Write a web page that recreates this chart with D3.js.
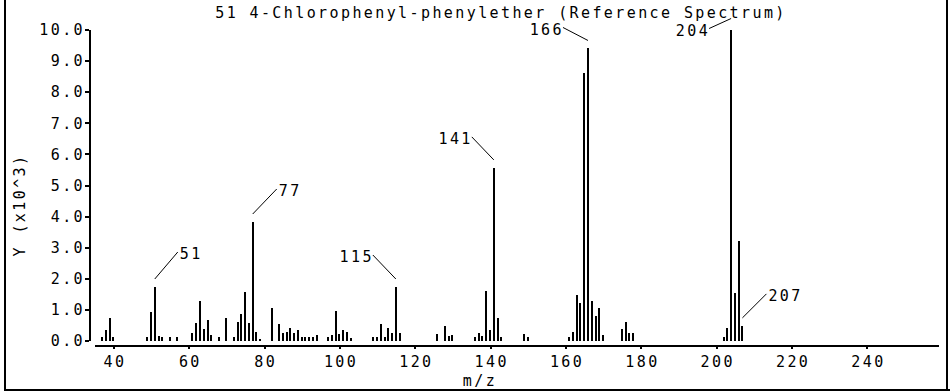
<!DOCTYPE html>
<html>
<head>
<meta charset="utf-8">
<script src="https://cdn.jsdelivr.net/npm/d3@7"></script>
<style>
    body { margin: 0; background: #fff; }
    text { font-family: "DejaVu Sans Mono", monospace; font-size: 15px; letter-spacing: 2.4px; fill: #000; }
    .axis path, .axis line { stroke: #000; stroke-width: 2px; shape-rendering: crispEdges; }
</style>
</head>
<body>
<svg id="spectrum" width="950" height="392"></svg>
<script>
// peaks (intensity in units of 10^3)
const masses = [37, 38, 39, 40, 49, 50, 51, 52, 53, 55, 57,
    61, 62, 63, 64, 65, 66, 68, 70, 72, 73, 74, 75, 76, 77, 78, 79,
    82, 84, 85, 86, 87, 88, 89, 90, 91, 92, 93, 94,
    97, 98, 99, 100, 101, 102, 103,
    109, 110, 111, 112, 113, 114, 115, 116,
    126, 128, 129, 130,
    136, 137, 138, 139, 140, 141, 142, 143, 149, 150,
    161, 162, 163, 164, 165, 166, 167, 168, 169, 170,
    175, 176, 177, 178,
    202, 203, 204, 205, 206, 207];
const intensities = [0.1, 0.35, 0.72, 0.1, 0.1, 0.91, 1.72, 0.15, 0.1, 0.1, 0.1,
    0.23, 0.55, 1.27, 0.36, 0.66, 0.18, 0.1, 0.72, 0.1, 0.58, 0.84, 1.57, 0.55, 3.81, 0.28, 0.05,
    1.04, 0.53, 0.23, 0.28, 0.39, 0.23, 0.34, 0.12, 0.12, 0.12, 0.12, 0.18,
    0.12, 0.18, 0.96, 0.2, 0.34, 0.28, 0.08,
    0.1, 0.1, 0.53, 0.12, 0.4, 0.25, 1.72, 0.25,
    0.22, 0.47, 0.16, 0.18,
    0.1, 0.23, 0.16, 1.6, 0.34, 5.55, 0.72, 0.1, 0.2, 0.1,
    0.1, 0.28, 1.47, 1.22, 8.6, 9.39, 1.27, 0.79, 1.04, 0.18,
    0.36, 0.61, 0.23, 0.23,
    0.12, 0.41, 10.0, 1.52, 3.19, 0.47];

const labelledMasses = [51, 77, 115, 141, 166, 204, 207];

const xTicks = [40, 60, 80, 100, 120, 140, 160, 180, 200, 220, 240];
const yTicks = [0, 1, 2, 3, 4, 5, 6, 7, 8, 9, 10];

const title = "51 4-Chlorophenyl-phenylether (Reference Spectrum)";
const xTitle = "m/z";
const yTitle = "Y (x10^3)";

// leader line layout: gap above bar, then dx/dy to the label
const leaders = {
    51: [8, 23, -27], 77: [8, 24, -25], 115: [8, -23, -24], 141: [8, -22, -23],
    166: [8, -25, -13], 204: [11, -22, 10], 207: [8, 24, -24]
};

const svg = d3.select("#spectrum");
const width = +svg.attr('width');
const height = +svg.attr('height');

const peaks = masses.map((m, i) => ({ mass: m, value: intensities[i] }));

const xScale = d3.scaleLinear().domain([35, 259]).range([94.5, 938.3]);
const yScale = d3.scaleLinear().domain([0, 10]).range([340.5, 29.5]);

// frame
svg.append("path")
    .attr("d", `M5,0 V390 H${width} M947,0 V390`)
    .attr("fill", "none")
    .attr("stroke", "#000")
    .attr("stroke-width", 2)
    .attr("shape-rendering", "crispEdges");

svg.append("text")
    .attr("x", 501)
    .attr("y", 13)
    .attr("dy", "0.35em")
    .attr("text-anchor", "middle")
    .text(title);

// y axis
const yAxisG = svg.append("g")
    .attr("class", "axis")
    .attr("transform", "translate(89,0)")
    .call(d3.axisLeft(yScale).tickValues(yTicks).tickSize(4).tickSizeOuter(0).tickFormat(d3.format(".1f")));
yAxisG.selectAll("text")
    .attr("x", -4)
    .attr("dy", "0.35em");
yAxisG.attr("font-family", null).attr("font-size", null);

// x axis
const xAxisG = svg.append("g")
    .attr("class", "axis")
    .attr("transform", "translate(0,345)")
    .call(d3.axisBottom(xScale).tickValues(xTicks).tickSize(4).tickSizeOuter(0));
xAxisG.selectAll("text")
    .attr("y", 17)
    .attr("dy", "0.35em")
    .attr("dx", 1.2);
xAxisG.attr("font-family", null).attr("font-size", null);

svg.append("text")
    .attr("x", 480)
    .attr("y", 381)
    .attr("dy", "0.35em")
    .attr("text-anchor", "middle")
    .text(xTitle);

svg.append("text")
    .attr("transform", "translate(20,205) rotate(-90)")
    .attr("dy", "0.35em")
    .attr("text-anchor", "middle")
    .text(yTitle);

// peaks
svg.append("g")
    .selectAll("rect")
    .data(peaks)
    .enter().append("rect")
        .attr("x", d => Math.round(xScale(d.mass)) - 1)
        .attr("y", d => yScale(d.value))
        .attr("width", 2)
        .attr("height", d => yScale(0) - yScale(d.value))
        .attr("fill", "#000")
        .attr("shape-rendering", "crispEdges");

// peak labels with leader lines
const labelG = svg.append("g");
labelledMasses.forEach(m => {
    const p = peaks.find(d => d.mass === m);
    const [gap, dx, dy] = leaders[m];
    const x0 = xScale(m);
    const y0 = yScale(p.value) - gap;
    const x1 = x0 + dx;
    const y1 = y0 + dy;

    labelG.append("line")
        .attr("x1", x0).attr("y1", y0)
        .attr("x2", x1).attr("y2", y1)
        .attr("stroke", "#000")
        .attr("stroke-width", 1);

    labelG.append("text")
        .attr("x", dx > 0 ? x1 + 2 : x1 + 1)
        .attr("y", y1 + 2)
        .attr("dy", "0.35em")
        .attr("text-anchor", dx > 0 ? "start" : "end")
        .text(m);
});
</script>
</body>
</html>
